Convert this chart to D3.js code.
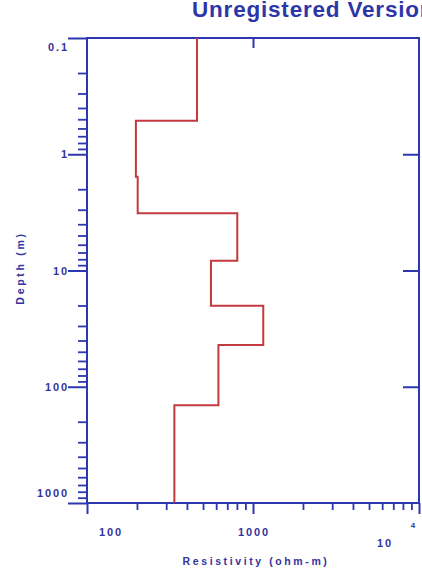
<!DOCTYPE html>
<html><head><meta charset="utf-8">
<script src="https://cdn.jsdelivr.net/npm/d3@7"></script>
<style>body{margin:0;background:#fff}svg{display:block}</style>
</head><body>
<svg id="c" width="422" height="573"></svg>
<script>
// ---- data ----
const resistivity = [460, 197, 202, 804, 558, 1153, 619, 336];
const layerTop    = [0.1, 0.514, 1.56, 3.22, 8.24, 20.1, 43.7, 144.5];
const layerBottom = [0.514, 1.56, 3.22, 8.24, 20.1, 43.7, 144.5, 1000];
const depthMajor = [0.1, 1, 10, 100, 1000];
const depthLabels = ["0.1", "1", "10", "100", "1000"];
const resMajor = [100, 1000, 10000];
const resLabels = ["100", "1000", "10"];
const resExpLabel = "4";
const titleText = "Unregistered Version";
const xTitle = "Resistivity (ohm-m)";
const yTitle = "Depth (m)";

// ---- layout ----
const L = 87, R = 419, T = 38, B = 503;
const axisColor = "#2c37b0", textColor = "#33349c", lineColor = "#c2393f";
const svg = d3.select("#c");
const x = d3.scaleLog().domain([100, 10000]).range([L, R]);
const y = d3.scaleLog().domain([0.1, 1000]).range([T, B]);

const isMajor = v => Math.abs(Math.log10(v) - Math.round(Math.log10(v))) < 1e-9;
const yMinor = y.ticks().filter(v => !isMajor(v));
const xMinor = x.ticks().filter(v => !isMajor(v));

function style(g, w) {
  g.select(".domain").remove();
  g.selectAll("line").attr("stroke", axisColor).attr("stroke-width", w);
  g.selectAll("text").remove();
}
// left
svg.append("g").attr("transform", `translate(${L},0)`)
  .call(d3.axisLeft(y).tickValues(yMinor).tickSize(9).tickFormat("")).call(g => style(g, 1.8));
svg.append("g").attr("transform", `translate(${L},0)`)
  .call(d3.axisLeft(y).tickValues(depthMajor).tickSize(19).tickFormat("")).call(g => style(g, 2));
// bottom
svg.append("g").attr("transform", `translate(0,${B})`)
  .call(d3.axisBottom(x).tickValues(xMinor).tickSize(7).tickFormat("")).call(g => style(g, 1.8));
svg.append("g").attr("transform", `translate(0,${B})`)
  .call(d3.axisBottom(x).tickValues(resMajor).tickSize(11).tickFormat("")).call(g => style(g, 2));
// top (inner)
svg.append("g").attr("transform", `translate(0,${T})`)
  .call(d3.axisBottom(x).tickValues([1000]).tickSize(10).tickFormat("")).call(g => style(g, 2));
// right (inner)
svg.append("g").attr("transform", `translate(${R},0)`)
  .call(d3.axisLeft(y).tickValues([1, 10, 100]).tickSize(16).tickFormat("")).call(g => style(g, 2));

// frame
svg.append("rect").attr("x", L).attr("y", T).attr("width", R - L).attr("height", B - T)
  .attr("fill", "none").attr("stroke", axisColor).attr("stroke-width", 2);

// profile
const pts = [];
resistivity.forEach((r, i) => { pts.push([r, layerTop[i]]); pts.push([r, layerBottom[i]]); });
svg.append("path").datum(pts)
  .attr("d", d3.line().x(d => x(d[0])).y(d => y(d[1])))
  .attr("fill", "none").attr("stroke", lineColor).attr("stroke-width", 2);

// labels
const lab = {"font-family": "Liberation Sans, Arial, sans-serif", "font-weight": "bold", "fill": textColor};
function txt(s, px, py, size, anchor, ls) {
  const t = svg.append("text").text(s).attr("x", px).attr("y", py)
    .attr("font-size", size).attr("text-anchor", anchor).attr("letter-spacing", ls);
  Object.entries(lab).forEach(([k, v]) => t.attr(k, v));
  return t;
}
const yOff = [9, 0, 0, 0, -10];
depthMajor.forEach((v, i) => txt(depthLabels[i], 69, y(v) + yOff[i] + 4, 11, "end", 1.9));
txt(resLabels[0], x(100) + 24, 535.5, 11, "middle", 1.9);
txt(resLabels[1], x(1000) + 1, 535.5, 11, "middle", 1.9);
txt(resLabels[2], x(10000) - 34, 547, 11, "middle", 1.9);
txt(resExpLabel, x(10000) - 6, 528, 8, "middle", 0);
txt(xTitle, 256, 565, 10.5, "middle", 2.6);
txt(yTitle, 0, 0, 10.5, "middle", 2.7).attr("transform", "translate(24,268) rotate(-90)");
txt(titleText, 192, 17, 22.5, "start", 0.8).attr("fill", "#2d36a8");
</script>
</body></html>
